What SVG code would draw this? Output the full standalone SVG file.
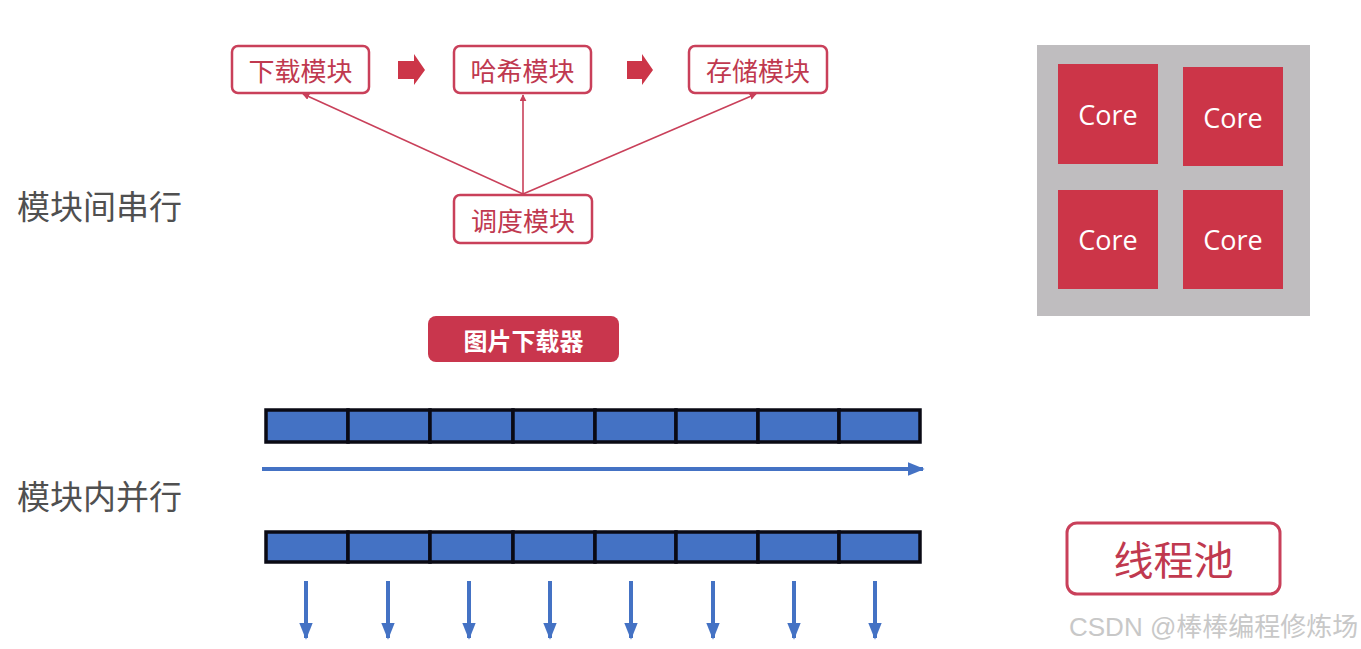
<svg xmlns="http://www.w3.org/2000/svg" width="1361" height="649" viewBox="0 0 1361 649">
<style>
.mod rect{fill:#fff;stroke:#c9405a;stroke-width:2.5}
.mod text{font-family:"Noto Sans CJK SC",sans-serif;font-size:26px;fill:#c0394f;text-anchor:middle;dominant-baseline:central}
.lbl{font-family:"Noto Sans CJK SC",sans-serif;font-size:33px;fill:#505050}
.core rect{fill:#cc3548}
.core text{font-family:"Open Sans","Noto Sans",sans-serif;font-size:27px;fill:#fff;text-anchor:middle;dominant-baseline:central}
.cell{fill:#4472c4;stroke:#0a0a14;stroke-width:3.5}
.conn line{stroke:#c9405a;stroke-width:1.6}
.blue{stroke:#4472c4;stroke-width:4}
</style>
<defs>
<marker id="ra" viewBox="0 0 10 10" refX="9" refY="5" markerWidth="7" markerHeight="7" markerUnits="userSpaceOnUse" orient="auto"><path d="M0,0 L10,5 L0,10 z" fill="#c9405a"/></marker>
<marker id="ba" viewBox="0 0 10 10" refX="9" refY="5" markerWidth="17" markerHeight="17" markerUnits="userSpaceOnUse" orient="auto"><path d="M0,1 L10,5 L0,9 z" fill="#4472c4"/></marker>
</defs>
<rect width="1361" height="649" fill="#fff"/>
<text class="lbl" x="17" y="219">模块间串行</text>
<text class="lbl" x="17" y="509">模块内并行</text>
<g id="n-download" class="mod"><rect x="232" y="46" width="137" height="47" rx="6"/><text x="300.5" y="69.5">下载模块</text></g>
<g id="n-hash" class="mod"><rect x="454" y="46" width="137" height="47" rx="6"/><text x="522.5" y="69.5">哈希模块</text></g>
<g id="n-store" class="mod"><rect x="689" y="46" width="138" height="47" rx="6"/><text x="758" y="69.5">存储模块</text></g>
<g id="n-sched" class="mod"><rect x="454" y="195" width="138" height="48" rx="6"/><text x="523" y="219">调度模块</text></g>
<g id="connectors" class="conn">
<path d="M398,61 H414 V54 L425,70 L414,85 V79 H398 z" fill="#cc3548"/>
<path d="M627,61 H642 V54 L653,70 L642,85 V79 H627 z" fill="#cc3548"/>
<line x1="523" y1="194" x2="303" y2="94" marker-end="url(#ra)"/>
<line x1="523" y1="194" x2="523" y2="95" marker-end="url(#ra)"/>
<line x1="523" y1="194" x2="756" y2="94" marker-end="url(#ra)"/>
</g>
<g id="n-downloader"><rect x="428" y="316" width="191" height="46" rx="8" fill="#c9364d"/><text x="523.5" y="339" font-family="Noto Sans CJK SC,sans-serif" font-size="24" font-weight="bold" fill="#fff" text-anchor="middle" dominant-baseline="central">图片下载器</text></g>
<g id="n-cpu"><rect x="1037" y="45" width="273" height="271" fill="#bfbdbf"/>
<g class="core"><rect x="1058" y="64" width="100" height="100"/><text x="1108" y="114">Core</text></g>
<g class="core"><rect x="1183" y="67" width="100" height="99"/><text x="1233" y="117">Core</text></g>
<g class="core"><rect x="1058" y="190" width="100" height="99"/><text x="1108" y="239">Core</text></g>
<g class="core"><rect x="1183" y="190" width="100" height="99"/><text x="1233" y="239">Core</text></g>
</g>
<g id="n-bar1">
<rect class="cell" x="266" y="410" width="82" height="32"/><rect class="cell" x="348" y="410" width="82" height="32"/><rect class="cell" x="430" y="410" width="83" height="32"/><rect class="cell" x="513" y="410" width="82" height="32"/><rect class="cell" x="595" y="410" width="81" height="32"/><rect class="cell" x="676" y="410" width="82" height="32"/><rect class="cell" x="758" y="410" width="81" height="32"/><rect class="cell" x="839" y="410" width="81" height="32"/>
</g>
<g id="n-bar2">
<rect class="cell" x="266" y="532" width="82" height="30"/><rect class="cell" x="348" y="532" width="82" height="30"/><rect class="cell" x="430" y="532" width="83" height="30"/><rect class="cell" x="513" y="532" width="82" height="30"/><rect class="cell" x="595" y="532" width="81" height="30"/><rect class="cell" x="676" y="532" width="82" height="30"/><rect class="cell" x="758" y="532" width="81" height="30"/><rect class="cell" x="839" y="532" width="81" height="30"/>
</g>
<g id="blue-arrows">
<line class="blue" x1="262" y1="469" x2="923" y2="469" marker-end="url(#ba)"/>
<line class="blue" x1="306" y1="581" x2="306" y2="638" marker-end="url(#ba)"/>
<line class="blue" x1="388" y1="581" x2="388" y2="638" marker-end="url(#ba)"/>
<line class="blue" x1="469" y1="581" x2="469" y2="638" marker-end="url(#ba)"/>
<line class="blue" x1="550" y1="581" x2="550" y2="638" marker-end="url(#ba)"/>
<line class="blue" x1="631" y1="581" x2="631" y2="638" marker-end="url(#ba)"/>
<line class="blue" x1="713" y1="581" x2="713" y2="638" marker-end="url(#ba)"/>
<line class="blue" x1="794" y1="581" x2="794" y2="638" marker-end="url(#ba)"/>
<line class="blue" x1="875" y1="581" x2="875" y2="638" marker-end="url(#ba)"/>
</g>
<g id="n-pool"><rect x="1067" y="523" width="213" height="71" rx="10" fill="#fff" stroke="#c9405a" stroke-width="3"/><text x="1173.5" y="558" font-family="Noto Sans CJK SC,sans-serif" font-size="40" fill="#c0394f" text-anchor="middle" dominant-baseline="central">线程池</text></g>
<text x="1069" y="636" font-family="Liberation Sans,Noto Sans CJK SC,sans-serif" font-size="26" fill="#c8c8c8">CSDN @棒棒编程修炼场</text>
</svg>
